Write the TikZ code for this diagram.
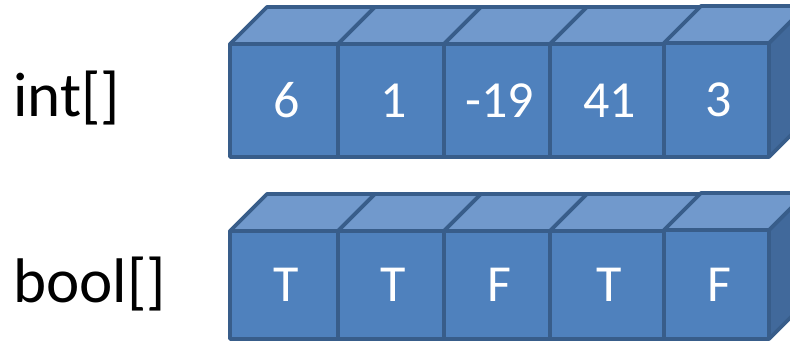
\documentclass[tikz,border=0pt]{standalone}
\usepackage{fontspec}
\setmainfont{Carlito}
\definecolor{frontc}{HTML}{4F81BD}
\definecolor{topc}{HTML}{7199CC}
\definecolor{sidec}{HTML}{41699B}
\definecolor{edgec}{HTML}{385D8A}
\newcommand{\mycube}[6]{%
  \draw[sideface] (#3,#4) -- (#3+37,#4+37) -- (#3+37,#5+37) -- (#3,#5) -- cycle;
  \draw[topface] (#2,#5) -- (#2+37,#5+37) -- (#3+37,#5+37) -- (#3,#5) -- cycle;
  \node[frontbox, minimum width={(#3-#2)*1pt}, minimum height={(#5-#4)*1pt}] (#1) at ({(#2+#3)/2},{(#4+#5)/2}) {\hspace{5pt}#6};
}
\tikzset{
  facebase/.style={draw=edgec, line width=3.8pt, line join=round},
  sideface/.style={facebase, fill=sidec},
  topface/.style={facebase, fill=topc},
  frontbox/.style={facebase, fill=frontc, rectangle, outer sep=0pt, inner sep=0pt,
    text=white, font=\fontsize{52}{62}\selectfont},
  lbl/.style={inner sep=0pt, anchor=base west, text=black, font=\fontsize{63}{75}\selectfont}
}
\begin{document}
\begin{tikzpicture}[x=1pt,y=1pt]
\useasboundingbox (0,0) rectangle (790,342);
\clip (0,0) rectangle (790,342);
\fill[white] (0,0) rectangle (790,342);
\node[lbl] (intlbl) at (13,225) {int[]};
\node[lbl] (boollbl) at (13,39) {bool[]};
% top row
\mycube{a1}{230}{338}{185}{298}{6}
\mycube{a2}{338}{444}{185}{298}{1}
\mycube{a3}{444}{550}{185}{298}{-19}
\mycube{a4}{550}{664}{185}{298}{41}
\mycube{a5}{664}{769}{185}{299}{3}
% bottom row
\mycube{b1}{230}{338}{3}{111}{T}
\mycube{b2}{338}{444}{3}{111}{T}
\mycube{b3}{444}{550}{3}{111}{F}
\mycube{b4}{550}{664}{3}{111}{T}
\mycube{b5}{664}{769}{3}{112}{F}
\end{tikzpicture}
\end{document}
